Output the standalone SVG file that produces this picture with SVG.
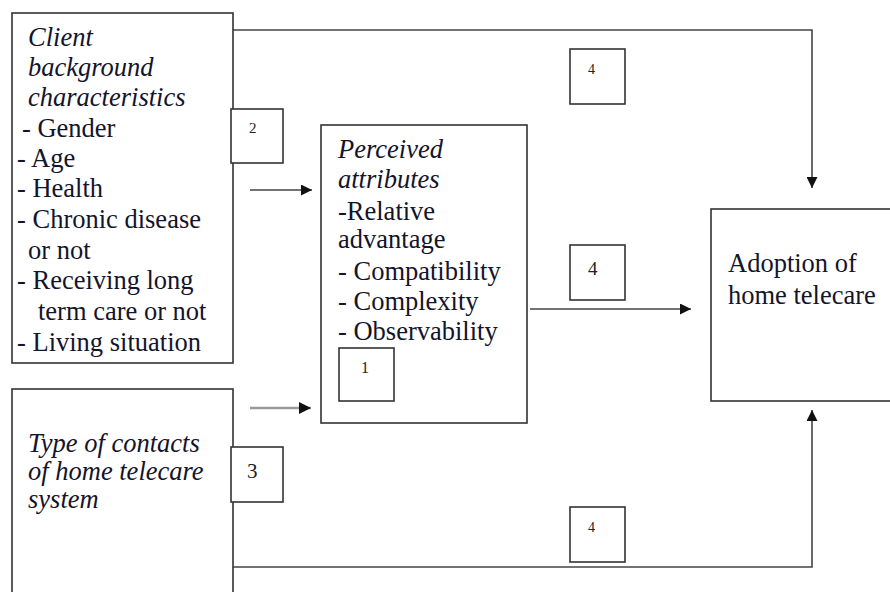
<svg xmlns="http://www.w3.org/2000/svg" width="890" height="592" viewBox="0 0 890 592">
<style>
.box{fill:#fff;stroke:#333;stroke-width:1.6}
.lbl{fill:#fff;stroke:#333;stroke-width:1.6}
text{font-family:'Liberation Serif','DejaVu Serif','Times New Roman',serif}
.t{font-size:26.5px;fill:#14142a}
.i{font-style:italic}
.n{fill:#222}
.c{fill:none;stroke:#444;stroke-width:1.6}
.g{fill:none;stroke:#999;stroke-width:2.5}
</style>
<defs>
<marker id="ah" viewBox="0 0 10 10" refX="10" refY="5" markerWidth="12" markerHeight="11" markerUnits="userSpaceOnUse" orient="auto">
<path d="M0,0 L10,5 L0,10 Z" fill="#111"/>
</marker>
<marker id="ahg" viewBox="0 0 10 10" refX="10" refY="5" markerWidth="13" markerHeight="12" markerUnits="userSpaceOnUse" orient="auto">
<path d="M0,0 L10,5 L0,10 Z" fill="#111"/>
</marker>
</defs>
<rect width="890" height="592" fill="#fff"/>
<g id="connectors">
<path class="c" d="M233,30 H812 V188" marker-end="url(#ah)"/>
<path class="c" d="M233,567 H812 V410" marker-end="url(#ah)"/>
<path class="c" d="M250,190 H312" marker-end="url(#ah)"/>
<path class="g" d="M250,408 H311" marker-end="url(#ahg)"/>
<path class="c" d="M530,309 H691" marker-end="url(#ah)"/>
</g>
<g id="client">
<rect class="box" x="12" y="13" width="221" height="350"/>
<text class="t i" x="28" y="46">Client</text>
<text class="t i" x="28" y="76">background</text>
<text class="t i" x="28" y="106">characteristics</text>
<text class="t" x="22" y="137">- Gender</text>
<text class="t" x="17" y="167">- Age</text>
<text class="t" x="17" y="197">- Health</text>
<text class="t" x="17" y="228">- Chronic disease</text>
<text class="t" x="28" y="259">or not</text>
<text class="t" x="17" y="289">- Receiving long</text>
<text class="t" x="38" y="320">term care or not</text>
<text class="t" x="17" y="351">- Living situation</text>
</g>
<g id="type">
<rect class="box" x="12" y="389" width="221" height="220"/>
<text class="t i" x="28" y="452">Type of contacts</text>
<text class="t i" x="28" y="480">of home telecare</text>
<text class="t i" x="28" y="508">system</text>
</g>
<g id="perceived">
<rect class="box" x="321" y="125" width="206" height="298"/>
<text class="t i" x="338" y="158">Perceived</text>
<text class="t i" x="338" y="188">attributes</text>
<text class="t" x="338" y="220">-Relative</text>
<text class="t" x="338" y="248">advantage</text>
<text class="t" x="338" y="280">- Compatibility</text>
<text class="t" x="338" y="310">- Complexity</text>
<text class="t" x="338" y="340">- Observability</text>
</g>
<g id="adoption">
<rect class="box" x="711" y="209" width="190" height="192"/>
<text class="t" x="728" y="272">Adoption of</text>
<text class="t" x="728" y="304">home telecare</text>
</g>
<g id="label1">
<rect class="lbl" x="339" y="348" width="55" height="53"/>
<text class="n" x="361" y="373" font-size="16">1</text>
</g>
<g id="label2">
<rect class="lbl" x="231" y="109" width="52" height="54"/>
<text class="n" x="249" y="133" font-size="15">2</text>
</g>
<g id="label3">
<rect class="lbl" x="231" y="447" width="52" height="55"/>
<text class="n" x="247" y="478" font-size="21">3</text>
</g>
<g id="label4top">
<rect class="lbl" x="570" y="49" width="55" height="55"/>
<text class="n" x="588" y="74" font-size="14">4</text>
</g>
<g id="label4mid">
<rect class="lbl" x="570" y="245" width="55" height="55"/>
<text class="n" x="588" y="275" font-size="19">4</text>
</g>
<g id="label4bot">
<rect class="lbl" x="570" y="507" width="55" height="55"/>
<text class="n" x="588" y="532" font-size="14">4</text>
</g>
</svg>
